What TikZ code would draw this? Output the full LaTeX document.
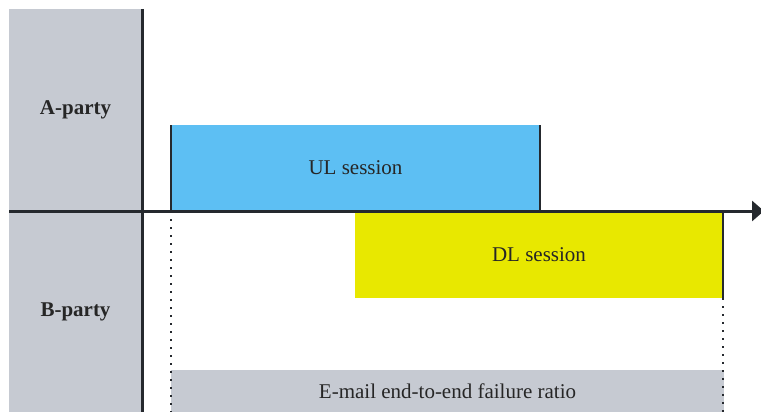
\documentclass[tikz,border=0pt]{standalone}
\usepackage{fontspec}
\setmainfont{Liberation Serif}
\usetikzlibrary{arrows.meta}
\definecolor{partygrey}{HTML}{C6CAD2}
\definecolor{ulblue}{HTML}{5DBFF3}
\definecolor{dlyellow}{HTML}{E8E800}
\definecolor{linedark}{HTML}{25292E}
\definecolor{textdark}{HTML}{262626}
\begin{document}
\begin{tikzpicture}[x=1pt, y=-1pt]
\tikzset{box/.style={inner sep=0pt, outer sep=0pt, text=textdark, font=\fontsize{21}{24}\selectfont},
         party/.style={box, fill=partygrey, minimum width=133pt, font=\fontsize{21}{24}\selectfont\bfseries},
         edge/.style={draw=linedark, line width=2.6pt},
         guide/.style={draw=linedark, line width=2pt, dash pattern=on 2pt off 6pt}}
\useasboundingbox (0,0) rectangle (761,412);
\node[party, minimum height=202pt] (aparty) at (75.5,110) {A-party};
\node[party, minimum height=201pt] (bparty) at (75.5,311.5) {B-party};
\node[box, fill=ulblue, minimum width=369pt, minimum height=86pt] (ul) at (355.5,168) {UL session};
\node[box, fill=dlyellow, minimum width=368pt, minimum height=87pt] (dl) at (539,254.5) {DL session};
\node[box, fill=partygrey, minimum width=553pt, minimum height=42pt] (ratio) at (447.5,391) {E-mail end-to-end failure ratio};
\coordinate (tend) at (764,211);

\draw[edge] (ul.north west) -- (ul.south west);
\draw[edge] (ul.north east) -- (ul.south east);
\draw[edge] (dl.north east) -- (dl.south east);
\draw[guide] (ul.south west) -- (ul.south west |- ratio.south);
\draw[guide] (dl.south east) -- (dl.south east |- ratio.south);
\draw[edge, line width=3pt] (aparty.north east) -- (bparty.south east);
\draw[edge, line width=3pt, -{Triangle[length=12pt, width=20pt]}] (aparty.south west) -- (tend);
\end{tikzpicture}
\end{document}
